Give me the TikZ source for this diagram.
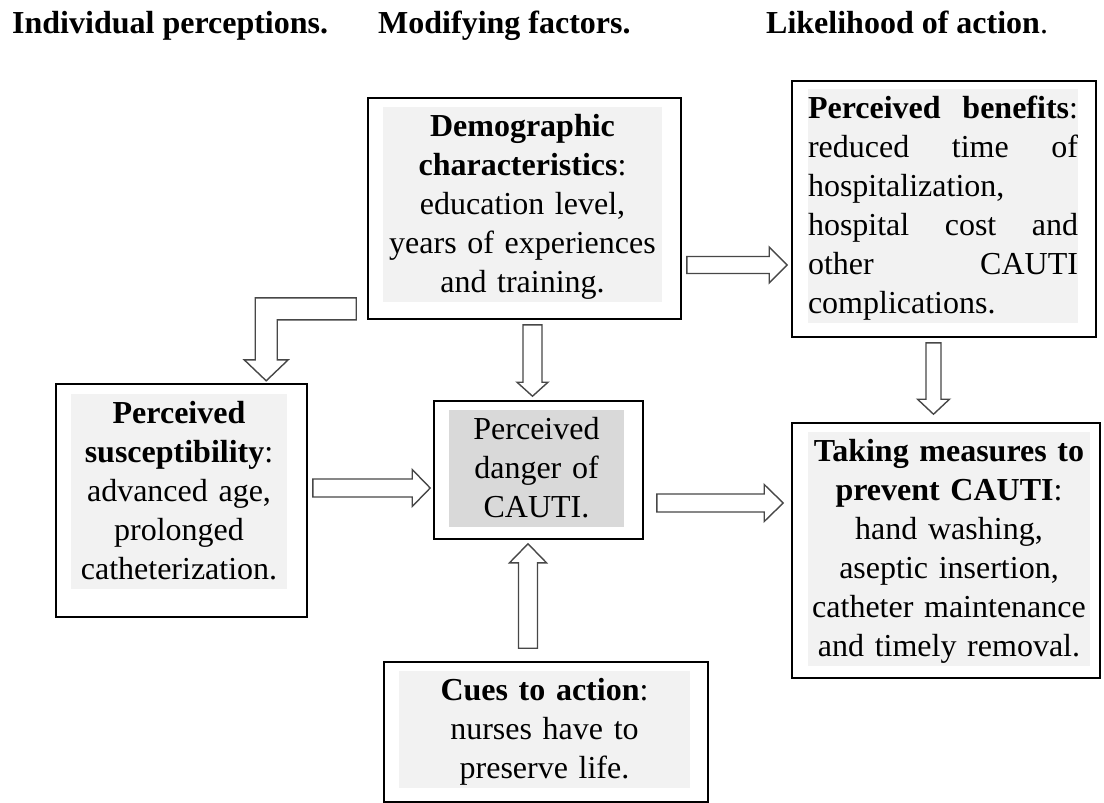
\documentclass[tikz,border=0pt]{standalone}
\usepackage{fontspec}
\setmainfont{Liberation Serif}
\usetikzlibrary{calc}
\definecolor{lightfill}{HTML}{F2F2F2}
\definecolor{darkfill}{HTML}{D9D9D9}
\newcommand{\bodyfont}{\fontsize{32}{39}\selectfont}
\newcommand{\hollowarrow}[5]{%
  \coordinate (hb) at ($(#5)!#3!(#4)$);
  \draw[blockarrow] ($(#4)!#1!90:(#5)$) -- ($(hb)!#1!90:(#5)$) -- ($(hb)!#2!90:(#5)$) -- (#5)
    -- ($(hb)!#2!-90:(#5)$) -- ($(hb)!#1!-90:(#5)$) -- ($(#4)!#1!-90:(#5)$) -- cycle;}

\begin{document}
\begin{tikzpicture}[x=1pt,y=-1pt,
  header/.style={font=\bodyfont\bfseries,inner sep=0pt,anchor=base west},
  outerbox/.style={draw,line width=1.6pt,inner sep=0pt},
  fillbox/.style={fill=lightfill,inner sep=0pt,anchor=north,align=center,font=\bodyfont,text height=29.5pt},
  blockarrow/.style={draw=black!72,line width=1.4pt,fill=white,line join=miter}]
  \useasboundingbox (0,0) rectangle (1104,803);

  \node[header] (hindiv) at (12,33) {Individual perceptions.};
  \node[header] (hmod)   at (378,33) {Modifying factors.};
  \node[header] (hlike)  at (766,33) {Likelihood of action\mdseries.};

  \node[outerbox,minimum width=313pt,minimum height=221pt] (demo)     at (524.5,208.5) {};
  \node[outerbox,minimum width=304pt,minimum height=256pt] (benefits) at (944,209) {};
  \node[outerbox,minimum width=251pt,minimum height=233pt] (susc)     at (181.5,500.5) {};
  \node[outerbox,minimum width=209pt,minimum height=138pt] (danger)   at (538.5,470) {};
  \node[outerbox,minimum width=308pt,minimum height=255pt] (measures) at (946,550.5) {};
  \node[outerbox,minimum width=324pt,minimum height=140pt] (cues)     at (546,732) {};

  \node[fillbox,text width=279pt,text depth=165.5pt] (demotext) at (522.5,107)
    {\textbf{Demographic}\\ \textbf{characteristics}:\\ education level,\\ years of experiences\\ and training.};
  \node[fillbox,align=left,text width=270pt,text depth=204.5pt] (benefitstext) at (943,89)
    {\textbf{Perceived}\hfill\textbf{benefits}:\\ reduced\hfill time\hfill of\\ hospitalization,\\
     hospital\hfill cost\hfill and\\ other\hfill CAUTI\\ complications.};
  \node[fillbox,text width=216pt,text depth=165.5pt] (susctext) at (179,394)
    {\textbf{Perceived}\\ \textbf{susceptibility}:\\ advanced age,\\ prolonged\\ catheterization.};
  \node[fillbox,fill=darkfill,text width=175pt,text depth=87.5pt] (dangertext) at (536.5,410)
    {Perceived\\ danger of\\ CAUTI.};
  \node[fillbox,text width=282pt,text depth=204.5pt] (measurestext) at (949,432)
    {\textbf{Taking measures to}\\ \textbf{prevent CAUTI}:\\ hand washing,\\ aseptic insertion,\\
     catheter maintenance\\ and timely removal.};
  \node[fillbox,text width=291pt,text depth=87.5pt] (cuestext) at (544.5,671)
    {\textbf{Cues to action}:\\ nurses have to\\ preserve life.};

  \coordinate (demob)  at ([shift={(5,56.5)}]demo.east);
  \coordinate (benb)   at ([shift={(-4,56)}]benefits.west);
  \coordinate (demod)  at ([shift={(8,5)}]demo.south);
  \coordinate (dangt)  at ([shift={(-6,-4)}]danger.north);
  \coordinate (benm)   at ([shift={(-10.5,5)}]benefits.south);
  \coordinate (meast)  at ([shift={(-12.5,-8)}]measures.north);
  \coordinate (suscd)  at ([shift={(5,-12.5)}]susc.east);
  \coordinate (dangl)  at ([shift={(-3,18)}]danger.west);
  \coordinate (dangm)  at ([shift={(13,33)}]danger.east);
  \coordinate (measl)  at ([shift={(-8,-47.5)}]measures.west);
  \coordinate (cuest)  at ([shift={(-18,-13)}]cues.north);
  \coordinate (dangb)  at ([shift={(-10.5,4)}]danger.south);

  \hollowarrow{8.5pt}{18pt}{18pt}{demob}{benb}
  \hollowarrow{9.5pt}{15.5pt}{14pt}{demod}{dangt}
  \hollowarrow{7.5pt}{16pt}{15pt}{benm}{meast}
  \hollowarrow{9pt}{18.5pt}{18pt}{suscd}{dangl}
  \hollowarrow{9pt}{18.5pt}{19pt}{dangm}{measl}
  \hollowarrow{9.5pt}{18.5pt}{19pt}{cuest}{dangb}

  \draw[blockarrow] ([shift={(-11,-22)}]demo.south west) -- ++(-101,0) -- ++(0,62) -- ++(-11,0)
    -- ++(22,21) -- ++(22,-21) -- ++(-11,0) -- ++(0,-40) -- ++(79,0) -- cycle;
\end{tikzpicture}
\end{document}
